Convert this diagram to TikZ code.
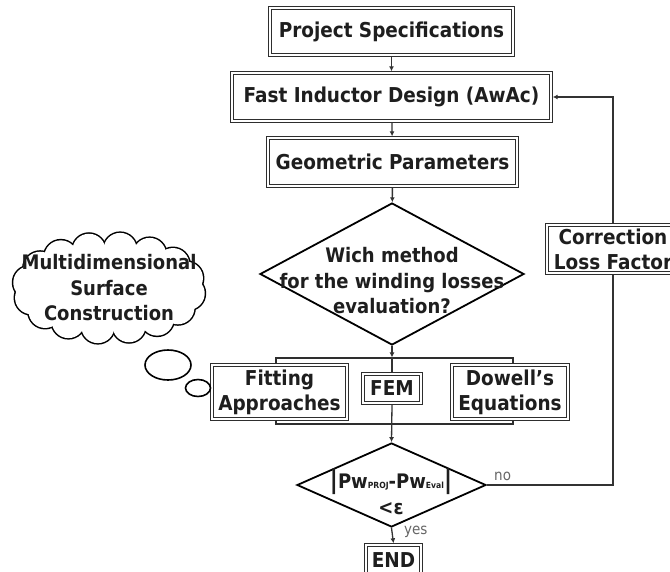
\documentclass[tikz,border=0pt]{standalone}
\usepackage{fontspec}
\setmainfont{DejaVu Sans Condensed}
\usetikzlibrary{shapes.geometric,arrows.meta}
\definecolor{bordergray}{HTML}{2E2E2E}
\definecolor{linegray}{HTML}{333333}
\definecolor{txtgray}{HTML}{1E1E1E}
\begin{document}
\begin{tikzpicture}[x=1pt,y=-1pt,
  box/.style={draw=bordergray, line width=3.4pt, fill=white,
    postaction={draw=white, line width=1.1pt},
    inner sep=0pt, align=center, text=txtgray, font=\bfseries\fontsize{20.5}{25}\selectfont},
  dia/.style={draw=black, line width=1.8pt, shape=diamond, inner sep=0pt, fill=white},
  lbl/.style={align=center, text=txtgray, font=\bfseries\fontsize{20}{25.5}\selectfont, inner sep=0pt},
  small/.style={text=black!60, font=\fontsize{15}{15}\selectfont, inner sep=0pt},
  conn/.style={draw=linegray, line width=1.3pt},
  arr/.style={conn, -{Latex[length=5pt,width=5pt]}},
  bubble/.style={draw=black, line width=1.6pt, fill=white, shape=ellipse, inner sep=0pt}
]
\path[use as bounding box] (0,0) rectangle (670,571);
\clip (0,0) rectangle (670,571);

% main boxes
\node[box, minimum width=243, minimum height=47] (ps) at (391.5,31.5) {Project Specifications};
\node[box, minimum width=319, minimum height=48] (fid) at (391.5,97) {Fast Inductor Design (AwAc)};
\node[box, minimum width=249, minimum height=48] (gp) at (392.5,162) {Geometric Parameters};

% first decision
\node[dia, minimum width=264, minimum height=142] (d1) at (392,274) {};
\node[lbl] (d1t) at (392,281) {Wich method\\for the winding losses\\evaluation?};

% group bracket
\node[draw=bordergray, line width=1.2pt, minimum width=237, minimum height=66, inner sep=0pt] (grp) at (394.5,391) {};
\node[box, minimum width=135, minimum height=54] (fit) at (279.5,392) {Fitting\\Approaches};
\node[box, minimum width=116, minimum height=54] (dow) at (510,392) {Dowell's\\Equations};
\node[box, minimum width=58, minimum height=29] (fem) at (392,388.5) {FEM};

% second decision
\node[dia, minimum width=189, minimum height=84] (d2) at (391.5,485) {};
\node[lbl] (d2a) at (391,482) {{\fontsize{26}{26}\selectfont|}Pw{\fontsize{8.5}{8.5}\selectfont PROJ}-Pw{\fontsize{8.5}{8.5}\selectfont Eval}{\fontsize{26}{26}\selectfont|}};
\node[lbl] (d2b) at (391,509) {<ε};

% end
\node[box, minimum width=55, minimum height=30] (end) at (393.5,560) {END};

% correction
\node[box, minimum width=132, minimum height=48] (corr) at (613,249) {Correction\\Loss Factor};

% cloud (union of puffs)
\foreach \k in {0,...,15} {
  \draw[black, line width=3pt] ({109+80*cos(22.5*\k+8)},{288+39*sin(22.5*\k+8)}) circle[radius=16.5];
}
\foreach \k in {0,...,15} {
  \fill[white] ({109+80*cos(22.5*\k+8)},{288+39*sin(22.5*\k+8)}) circle[radius=16.5];
}
\fill[white] (109,288) ellipse[x radius=82, y radius=41];
\node[lbl] (clt) at (109,288) {Multidimensional\\Surface\\Construction};
\node[bubble, minimum width=46, minimum height=30] (b1) at (168,365) {};
\node[bubble, minimum width=25, minimum height=17] (b2) at (198,388) {};

% connectors
\draw[arr] (ps) -- (fid);
\draw[arr] (fid) -- (gp);
\draw[arr] (gp) -- (d1);
\draw[arr] (d1.south) -- (d1.south |- grp.north);
\draw[conn] (d1.south |- grp.north) -- (fem.north);
\draw[arr] (fem.south) -- (d2.north);
\draw[arr] (d2.south) -- (end.north);
\draw[conn] (d2.east) -| (corr.south);
\draw[arr] (corr.north) |- (fid.east);

\node[small, anchor=south west] (no) at (494,481) {no};
\node[small, anchor=north west] (yes) at (404,526) {yes};
\end{tikzpicture}
\end{document}
